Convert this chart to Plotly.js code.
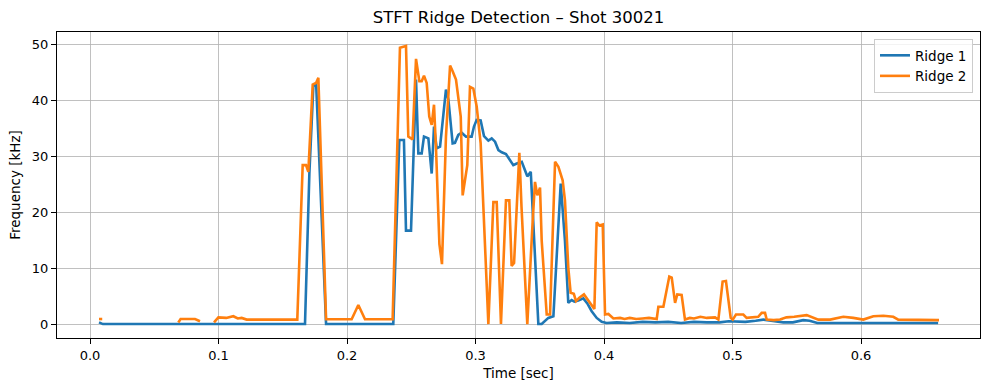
<!DOCTYPE html>
<html>
<head>
<meta charset="utf-8">
<script src="https://cdn.plot.ly/plotly-3.0.1.min.js"></script>
<style>html,body{margin:0;padding:0;background:#fff;}#chart{width:989px;height:390px;}</style>
</head>
<body>
<div id="chart"></div>
<script>
// Ridge 1 (time in s, frequency in kHz)
const ridge1Time = [0.007,0.010,0.1673,0.1707,0.1738,0.1760,0.1837,0.2360,0.2407,0.2443,0.2459,0.2498,0.2537,0.2555,0.2581,0.2599,0.2633,0.2659,0.2677,0.2698,0.2724,0.2770,0.2789,0.2822,0.2840,0.2866,0.2892,0.2926,0.2970,0.2988,0.3009,0.3040,0.3066,0.3100,0.3126,0.3152,0.3178,0.3204,0.3237,0.3268,0.3294,0.3321,0.3360,0.3385,0.3403,0.3430,0.3489,0.3515,0.3567,0.3606,0.3663,0.3696,0.3722,0.3748,0.3770,0.3800,0.3839,0.3870,0.3904,0.3943,0.3982,0.4020,0.410,0.420,0.430,0.440,0.450,0.460,0.470,0.480,0.490,0.497,0.503,0.510,0.518,0.524,0.530,0.5395,0.547,0.555,0.560,0.566,0.660];
const ridge1Freq = [0.3,0,0,26.9,42.6,42.8,0,0,32.9,32.9,16.7,16.7,43.7,30.5,30.5,33.5,33.2,26.9,35.3,31.4,31.7,41.9,40.1,32.3,32.4,33.8,34.2,33.5,33.5,35.3,36.5,36.4,33.6,32.8,33.2,32.6,31.1,30.7,30.4,29.3,28.4,28.7,29.0,27.5,26.4,27.2,0,0,1.1,1.4,25.1,14.9,3.8,4.3,4.0,4.2,4.6,3.7,2.3,1.1,0.4,0.2,0.3,0.2,0.4,0.3,0.4,0.2,0.4,0.3,0.3,0.5,0.5,0.4,0.6,0.8,0.6,0.3,0.3,0.7,0.6,0.2,0.2];

// Ridge 2 (null = not detected)
const ridge2Time = [0.007,0.0095,0.0096,0.0687,0.0705,0.0817,0.0856,0.0857,0.0965,0.0999,0.1060,0.1115,0.1150,0.1180,0.1219,0.1613,0.1655,0.1681,0.1699,0.1733,0.1759,0.1777,0.1837,0.2036,0.2088,0.2140,0.2355,0.2412,0.2459,0.2477,0.2510,0.2537,0.2563,0.2581,0.2599,0.2620,0.2640,0.2659,0.2677,0.2693,0.2719,0.2739,0.2770,0.2802,0.2822,0.2848,0.2885,0.2900,0.2936,0.2957,0.2983,0.3009,0.3040,0.3069,0.3100,0.3139,0.3165,0.3198,0.3237,0.3263,0.3281,0.3300,0.3341,0.3358,0.3403,0.3445,0.3463,0.3481,0.3502,0.3515,0.3554,0.3580,0.3619,0.3645,0.3678,0.3696,0.3722,0.3740,0.3765,0.3782,0.3808,0.3844,0.3870,0.3904,0.3925,0.3943,0.3964,0.3990,0.4008,0.4034,0.4073,0.4125,0.4160,0.420,0.425,0.430,0.435,0.441,0.4423,0.4462,0.4508,0.4527,0.4553,0.4570,0.4604,0.4630,0.4668,0.470,0.475,0.480,0.4864,0.4890,0.4923,0.4949,0.4986,0.5002,0.5027,0.5084,0.5110,0.520,0.5227,0.5253,0.5266,0.532,0.537,0.542,0.548,0.5577,0.5615,0.5668,0.576,0.5862,0.594,0.6018,0.6096,0.6174,0.6251,0.629,0.6607];
const ridge2Freq = [0.9,0.9,null,0.3,0.9,0.9,0.5,null,0.3,1.2,1.1,1.4,1.0,1.1,0.8,0.8,28.4,28.4,27.2,42.8,43.1,44.0,0.85,0.85,3.4,0.85,0.85,49.4,49.7,33.5,33.0,47.4,43.4,43.4,44.4,43.1,37.1,35.6,39.2,31.1,14.3,10.7,33.5,46.2,45.2,43.7,37.1,23.0,28.4,42.4,42.1,38.9,32.3,17.9,0,21.8,21.8,0,22.1,22.1,10.4,10.9,30.6,20.9,0,18.5,25.4,23.0,24.4,14.9,1.7,1.7,29.0,28.1,25.7,22.1,10.1,5.6,5.4,4.1,4.7,5.3,4.5,3.4,2.7,18.2,17.6,17.8,1.7,1.8,1.0,1.1,0.9,1.1,0.9,1.0,1.1,0.9,3.1,3.1,8.5,8.3,3.8,5.3,5.2,0.8,1.1,1.0,1.3,1.1,1.2,0.8,7.6,7.7,1.1,0.8,1.7,1.7,1.1,1.3,2.0,2.0,0.8,0.7,0.8,1.2,1.3,1.6,1.3,0.8,0.8,1.3,1.1,0.8,1.4,1.5,1.3,0.8,0.7];

const seriesNames = ['Ridge 1', 'Ridge 2'];
const xTicks = [0, 0.1, 0.2, 0.3, 0.4, 0.5, 0.6];
const xTickLabels = ['0.0', '0.1', '0.2', '0.3', '0.4', '0.5', '0.6'];
const yTicks = [0, 10, 20, 30, 40, 50];

const FONT = 'DejaVu Sans, sans-serif';

const traces = [
  {x: ridge1Time, y: ridge1Freq, name: seriesNames[0], mode: 'lines',
   line: {color: '#1f77b4', width: 2.6}, connectgaps: false},
  {x: ridge2Time, y: ridge2Freq, name: seriesNames[1], mode: 'lines',
   line: {color: '#ff7f0e', width: 2.6}, connectgaps: false}
];

const axisCommon = {
  showline: true, mirror: true, linecolor: '#000', linewidth: 1.1,
  showgrid: true, gridcolor: '#b0b0b0', gridwidth: 0.8,
  zeroline: false, ticks: 'outside', ticklen: 5, tickwidth: 1, tickcolor: '#000',
  tickfont: {family: FONT, size: 13, color: '#000'}
};

const layout = {
  width: 989, height: 390,
  margin: {l: 57, r: 9, t: 32, b: 52},
  paper_bgcolor: '#fff', plot_bgcolor: '#fff',
  font: {family: FONT, color: '#000'},
  title: {text: 'STFT Ridge Detection – Shot 30021', font: {family: FONT, size: 16.5, color: '#000'},
          xref: 'paper', x: 0.5, xanchor: 'center', yref: 'container', y: 0.955, yanchor: 'middle'},
  xaxis: Object.assign({}, axisCommon, {
    range: [-0.0257, 0.6926], tickvals: xTicks, ticktext: xTickLabels,
    title: {text: 'Time [sec]', font: {family: FONT, size: 13.5, color: '#000'}, standoff: 6}
  }),
  yaxis: Object.assign({}, axisCommon, {
    range: [-2.49, 52.2], tickvals: yTicks,
    title: {text: 'Frequency [kHz]', font: {family: FONT, size: 13.5, color: '#000'}, standoff: 8}
  }),
  showlegend: true,
  legend: {x: 0.9924, y: 0.977, xanchor: 'right', yanchor: 'top',
           bgcolor: 'rgba(255,255,255,0.8)', bordercolor: '#cccccc', borderwidth: 1,
           font: {family: FONT, size: 13.5, color: '#000'}, tracegroupgap: 2}
};

Plotly.newPlot('chart', traces, layout, {displayModeBar: false, staticPlot: true});
</script>
</body>
</html>
